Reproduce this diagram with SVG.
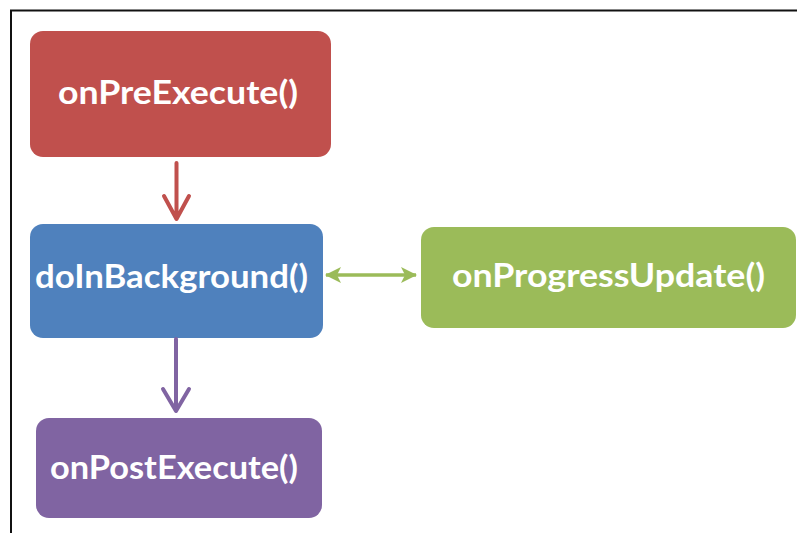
<svg xmlns="http://www.w3.org/2000/svg" width="797" height="533" viewBox="0 0 797 533">
<defs>
<style>
.lbl{font-family:Lato,"Open Sans","Liberation Sans",sans-serif;font-weight:700;font-size:32px;fill:#ffffff}
.con{fill:none;stroke-width:4;stroke-linecap:round;stroke-linejoin:round}
</style>
<marker id="tipG" viewBox="0 0 16 16" refX="15" refY="8" markerWidth="16" markerHeight="16" markerUnits="userSpaceOnUse" orient="auto-start-reverse">
<path d="M0,0 L16,8 L0,16 L4,8 Z" fill="#9bbb59"/>
</marker>
</defs>
<rect x="0" y="0" width="797" height="533" fill="#ffffff"/>
<path d="M11,533 V10.5 H797" fill="none" stroke="#111111" stroke-width="2"/>
<g id="onPreExecute">
<rect x="30" y="31" width="301" height="126" rx="13" fill="#c0504d"/>
<text class="lbl" x="58" y="104" textLength="240" lengthAdjust="spacingAndGlyphs">onPreExecute()</text>
</g>
<g id="doInBackground">
<rect x="30" y="224" width="293" height="114" rx="13" fill="#4f81bd"/>
<text class="lbl" x="35" y="288" textLength="273" lengthAdjust="spacingAndGlyphs">doInBackground()</text>
</g>
<g id="onProgressUpdate">
<rect x="421" y="227" width="375" height="101" rx="13" fill="#9bbb59"/>
<text class="lbl" x="452" y="287" textLength="313" lengthAdjust="spacingAndGlyphs">onProgressUpdate()</text>
</g>
<g id="onPostExecute">
<rect x="36" y="418" width="286" height="100" rx="13" fill="#8064a2"/>
<text class="lbl" x="50" y="479" textLength="248" lengthAdjust="spacingAndGlyphs">onPostExecute()</text>
</g>
<g id="connectors">
<path class="con" stroke="#c0504d" d="M176.5,163 V218 M164,196 L176.5,219 L189,196"/>
<path class="con" stroke="#8064a2" d="M176,339 V410 M163,389 L176,411 L189,389"/>
<line x1="326" y1="275" x2="416" y2="275" stroke="#9bbb59" stroke-width="3.5" marker-start="url(#tipG)" marker-end="url(#tipG)"/>
</g>
</svg>
